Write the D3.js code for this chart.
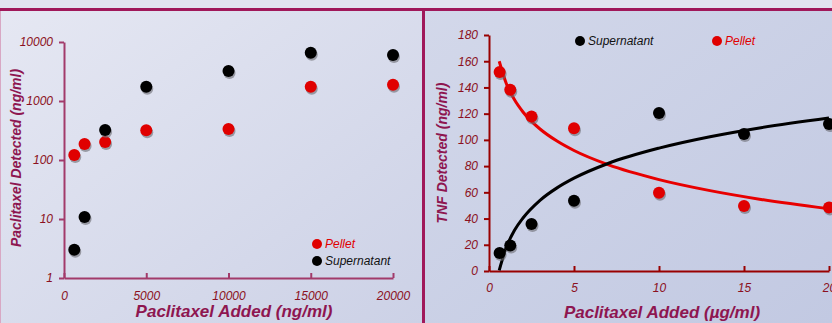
<!DOCTYPE html>
<html lang="en">
<head>
    <meta charset="UTF-8">
    <title>Paclitaxel</title>
    <script src="https://d3js.org/d3.v7.min.js"></script>
    <style>
        body { margin: 0; }
        text { font-family: 'Liberation Sans', Arial, sans-serif; font-style: italic; }
        .tick text { font-size: 12px; }
        text.title { font-size: 17px; font-weight: bold; fill: #8e1650; }
        text.legend { font-size: 12px; }
    </style>
</head>
<body>
<svg width="832" height="323"></svg>
<script>
    // left chart: paclitaxel recovered (ng/ml)
    const addedNg = [625, 1250, 2500, 5000, 10000, 15000, 20000];
    const pelletNg = [122, 187, 202, 318, 335, 1750, 1890];
    const superNg = [3.0, 10.8, 322, 1750, 3220, 6590, 6020];
    const leftXTicks = [0, 5000, 10000, 15000, 20000];
    const leftYTicks = [1, 10, 100, 1000, 10000];

    // right chart: TNF detected (ng/ml)
    const addedUg = [0.625, 1.25, 2.5, 5, 10, 15, 20];
    const superTnf = [13.7, 19.5, 35.8, 53.6, 120.5, 104.5, 112.1];
    const pelletTnf = [151.8, 138.3, 117.9, 108.8, 59.7, 49.6, 48.5];
    const rightXTicks = [0, 5, 10, 15, 20];
    const rightYTicks = [0, 20, 40, 60, 80, 100, 120, 140, 160, 180];

    // trend lines
    const trendX = [0.6, 1, 1.5, 2, 3, 4, 5, 7, 10, 13, 16, 20];
    const superTrend = [0.5, 17.5, 31, 40.4, 53.9, 63.4, 70.8, 82, 93.7, 102.4, 109.3, 116.7];
    const pelletTrend = [160, 143.6, 130.6, 121.3, 108.3, 99.1, 91.9, 81.1, 69.7, 61.3, 54.6, 47.4];

    const svg = d3.select("svg");
    const defs = svg.append("defs");

    const gl = defs.append("linearGradient").attr("id", "bgL")
        .attr("x1", 0).attr("y1", 0).attr("x2", 1).attr("y2", 1);
    gl.append("stop").attr("offset", 0).attr("stop-color", "#e6e8f3");
    gl.append("stop").attr("offset", 1).attr("stop-color", "#ccd1e6");
    const gr = defs.append("linearGradient").attr("id", "bgR")
        .attr("x1", 0).attr("y1", 0).attr("x2", 1).attr("y2", 1);
    gr.append("stop").attr("offset", 0).attr("stop-color", "#d3d8ea");
    gr.append("stop").attr("offset", 1).attr("stop-color", "#c2c9e2");

    svg.append("rect").attr("width", 424).attr("height", 323).attr("fill", "url(#bgL)");
    svg.append("rect").attr("x", 424).attr("width", 408).attr("height", 323).attr("fill", "url(#bgR)");
    svg.append("rect").attr("width", 832).attr("height", 10).attr("fill", "#e2e4f0");
    // frame lines
    svg.append("rect").attr("x", 0).attr("y", 8).attr("width", 832).attr("height", 3).attr("fill", "#a0185a");
    svg.append("rect").attr("x", 422).attr("y", 8).attr("width", 3).attr("height", 315).attr("fill", "#a0185a");
    svg.append("rect").attr("x", 0).attr("y", 11).attr("width", 1).attr("height", 312).attr("fill", "#d8a8c4");

    function dots(g, xs, ys, x, y, color) {
        const d = xs.map((v, i) => [v, ys[i]]);
        g.append("g").selectAll("circle").data(d).join("circle")
            .attr("cx", p => x(p[0]) + 1).attr("cy", p => y(p[1]) + 2)
            .attr("r", 6).attr("fill", "#6a6a72").attr("opacity", 0.6);
        g.append("g").selectAll("circle").data(d).join("circle")
            .attr("cx", p => x(p[0])).attr("cy", p => y(p[1]))
            .attr("r", 6).attr("fill", color);
    }

    function styleAxis(g, color, labelColor) {
        g.select(".domain").attr("stroke", color).attr("stroke-width", 2);
        g.selectAll(".tick line").attr("stroke", color).attr("stroke-width", 2);
        g.selectAll(".tick text").attr("fill", labelColor);
    }

    // ---- left chart
    const xL = d3.scaleLinear().domain([0, 20000]).range([64, 393]);
    const yL = d3.scaleLog().domain([1, 10000]).range([278, 42]);
    const left = svg.append("g");

    left.append("g").attr("transform", "translate(0,278)")
        .call(d3.axisBottom(xL).tickValues(leftXTicks).tickFormat(d3.format("d"))
            .tickSize(-5).tickPadding(11).tickSizeOuter(0))
        .call(g => styleAxis(g, "#a23a6a", "#8b1020"))
        .call(g => g.selectAll(".tick text").attr("dy", "0.9em"));
    left.append("g").attr("transform", "translate(64,0)")
        .call(d3.axisLeft(yL).tickValues(leftYTicks).tickFormat(d3.format("d")).tickSize(5).tickPadding(6).tickSizeOuter(0))
        .call(g => styleAxis(g, "#a23a6a", "#8b1020"));

    dots(left, addedNg, pelletNg, xL, yL, "#e00000");
    dots(left, addedNg, superNg, xL, yL, "#000");

    left.append("circle").attr("cx", 317).attr("cy", 244).attr("r", 5).attr("fill", "#e00000");
    left.append("text").attr("class", "legend").attr("x", 325).attr("y", 248).attr("fill", "#e00000").text("Pellet");
    left.append("circle").attr("cx", 317).attr("cy", 261).attr("r", 5).attr("fill", "#000");
    left.append("text").attr("class", "legend").attr("x", 325).attr("y", 265).attr("fill", "#111").text("Supernatant");

    left.append("text").attr("class", "title").attr("text-anchor", "middle")
        .attr("x", 234).attr("y", 317).text("Paclitaxel Added (ng/ml)");
    left.append("text").attr("class", "title").attr("text-anchor", "middle")
        .attr("transform", "translate(21,158) rotate(-90)")
        .style("font-size", "14px").text("Paclitaxel  Detected (ng/ml)");

    // ---- right chart
    const xR = d3.scaleLinear().domain([0, 20]).range([489, 829]);
    const yR = d3.scaleLinear().domain([0, 180]).range([271, 35]);
    const right = svg.append("g");

    right.append("g").attr("transform", "translate(0,271)")
        .call(d3.axisBottom(xR).tickValues(rightXTicks).tickSize(-5).tickPadding(10).tickSizeOuter(0))
        .call(g => styleAxis(g, "#990000", "#8b1020"))
        .call(g => g.selectAll(".tick text").attr("dy", "0.9em"));
    right.append("g").attr("transform", "translate(489,0)")
        .call(d3.axisLeft(yR).tickValues(rightYTicks).tickSize(5).tickPadding(6).tickSizeOuter(0))
        .call(g => styleAxis(g, "#990000", "#8b1020"));

    const line = d3.line().x(d => xR(d[0])).y(d => yR(d[1])).curve(d3.curveMonotoneX);
    right.append("path").datum(trendX.map((v, i) => [v, pelletTrend[i]]))
        .attr("d", line).attr("fill", "none").attr("stroke", "#e80000").attr("stroke-width", 3);
    right.append("path").datum(trendX.map((v, i) => [v, superTrend[i]]))
        .attr("d", line).attr("fill", "none").attr("stroke", "#000").attr("stroke-width", 3);

    dots(right, addedUg, superTnf, xR, yR, "#000");
    dots(right, addedUg, pelletTnf, xR, yR, "#e00000");

    right.append("circle").attr("cx", 580).attr("cy", 41).attr("r", 5).attr("fill", "#000");
    right.append("text").attr("class", "legend").attr("x", 588).attr("y", 45).attr("fill", "#111").text("Supernatant");
    right.append("circle").attr("cx", 717).attr("cy", 41).attr("r", 5).attr("fill", "#e00000");
    right.append("text").attr("class", "legend").attr("x", 725).attr("y", 45).attr("fill", "#e00000").text("Pellet");

    right.append("text").attr("class", "title").attr("text-anchor", "middle")
        .attr("x", 662).attr("y", 318).text("Paclitaxel Added (\u00b5g/ml)");
    right.append("text").attr("class", "title").attr("text-anchor", "middle")
        .attr("transform", "translate(447,153) rotate(-90)")
        .style("font-size", "14px").text("TNF Detected (ng/ml)");
</script>
</body>
</html>
